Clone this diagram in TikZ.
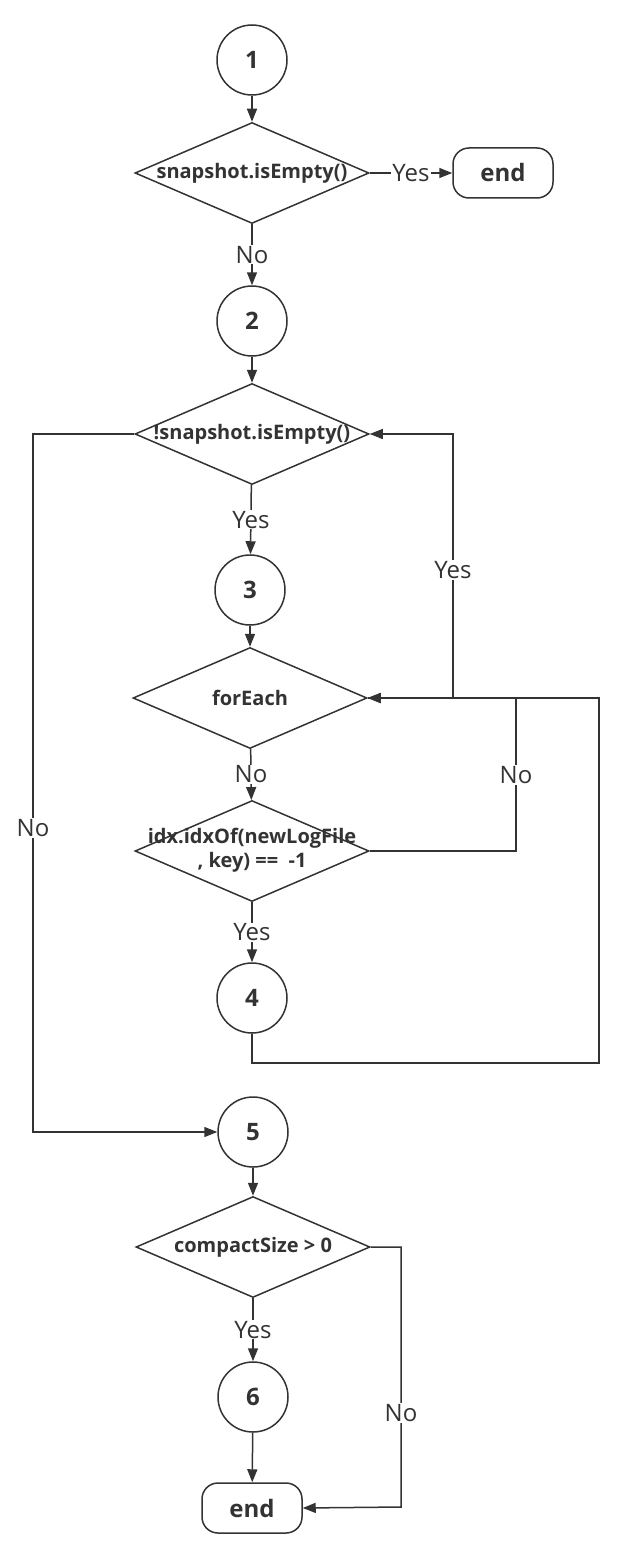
\documentclass[tikz,border=0pt]{standalone}
\usepackage{fontspec}
\setmainfont{Open Sans}
\usetikzlibrary{shapes.geometric,arrows.meta}
\definecolor{ink}{HTML}{333333}
\begin{document}
\begin{tikzpicture}[x=1pt,y=-1pt,
  every node/.style={text=ink},
  conn/.style={draw=ink,line width=1.5pt},
  arr/.style={conn,-{Triangle[length=13pt,width=10pt]}},
  numnode/.style={circle,draw=ink,line width=1.5pt,minimum size=70pt,inner sep=0pt,font=\fontsize{24}{28}\selectfont\bfseries},
  endnode/.style={rectangle,rounded corners=16pt,draw=ink,line width=1.5pt,minimum width=100pt,minimum height=50pt,inner sep=0pt,font=\fontsize{24}{28}\selectfont\bfseries},
  decnode/.style={diamond,draw=ink,line width=1.5pt,minimum width=234pt,minimum height=101pt,inner sep=0pt,font=\fontsize{20}{24}\selectfont\bfseries},
  lbl/.style={fill=white,inner sep=1pt,font=\fontsize{24}{28}\selectfont}
]
\useasboundingbox (0,0) rectangle (625,1557);
\fill[white] (0,0) rectangle (625,1557);

\node[numnode] (c1) at (252,60) {1};
\node[decnode] (d1) at (252,173) {\makebox[0pt]{\raisebox{-3pt}{snapshot.isEmpty()}}};
\node[endnode] (e1) at (503,173) {end};
\node[numnode] (c2) at (252,321) {2};
\node[decnode] (d2) at (252,434) {\makebox[0pt]{\raisebox{-3pt}{!snapshot.isEmpty()}}};
\node[numnode] (c3) at (250,590) {3};
\node[decnode] (fe) at (250,698) {\makebox[0pt]{forEach}};
\node[decnode] (idx) at (252,851) {\makebox[0pt]{\begin{tabular}{@{}c@{}}idx.idxOf(newLogFile\\ , key) ==\ \ -1\end{tabular}}};
\node[numnode] (c4) at (252,998) {4};
\node[numnode] (c5) at (253,1132) {5};
\node[decnode] (cs) at (253,1247) {\makebox[0pt]{compactSize > 0}};
\node[numnode] (c6) at (253,1397) {6};
\node[endnode] (e2) at (252,1508) {end};

\draw[arr] (c1) -- (d1);
\draw[arr] (d1) -- node[lbl] (lY1) {Yes} (e1);
\draw[arr] (d1) -- node[lbl] (lN1) {No} (c2);
\draw[arr] (c2) -- (d2);
\draw[arr] (d2) -- node[lbl] (lY2) {Yes} (c3);
\draw[arr] (c3) -- (fe);
\draw[arr] (fe) -- node[lbl] (lN2) {No} (idx);
\draw[arr] (idx) -- node[lbl] (lY3) {Yes} (c4);
\draw[arr] (c5) -- (cs);
\draw[arr] (cs) -- node[lbl] (lY4) {Yes} (c6);
\draw[arr] (c6) -- (e2);

\draw[arr] (c4.south) -- (252,1063) -- (599,1063) -- (599,698) -- (fe.east);
\draw[arr] (idx.east) -- (516,851) -- (516,698) -- (fe.east);
\node[lbl] (lN3) at (516,775) {No};
\draw[arr] (fe.east) -- (453,698) -- (453,434) -- (d2.east);
\node[lbl] (lY5) at (453,570) {Yes};
\draw[arr] (d2.west) -- (33,434) -- (33,1132) -- (c5.west);
\node[lbl] (lN4) at (33,828) {No};
\draw[arr] (cs.east) -- (401,1247) -- (401,1507) -- (e2.east);
\node[lbl] (lN5) at (401,1413) {No};
\end{tikzpicture}
\end{document}
